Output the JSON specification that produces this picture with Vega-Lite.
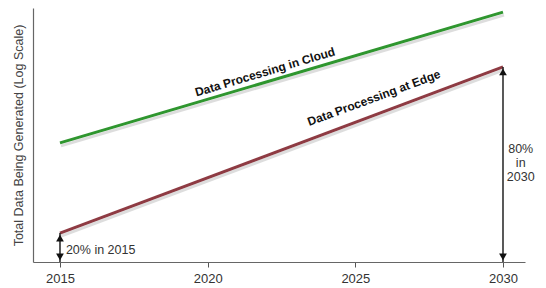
{
  "$schema": "https://vega.github.io/schema/vega-lite/v6.json",
  "width": 492,
  "height": 254,
  "autosize": "none",
  "padding": {"left": 33, "top": 8, "right": 21, "bottom": 26},
  "background": "white",
  "config": {
    "view": {"stroke": null},
    "font": "Liberation Sans"
  },
  "datasets": {
    "lines": [
      {"year": 2015, "value": 46.9, "series": "Cloud"},
      {"year": 2030, "value": 98.4, "series": "Cloud"},
      {"year": 2015, "value": 11.4, "series": "Edge"},
      {"year": 2030, "value": 76.8, "series": "Edge"}
    ],
    "labels": [
      {"year": 2021.94, "value": 74.8, "label": "Data Processing in Cloud", "angle": -16.6},
      {"year": 2025.63, "value": 64.6, "label": "Data Processing at Edge", "angle": -20.3}
    ],
    "arrows": [
      {"year": 2015, "low": 0, "high": 11.4},
      {"year": 2030, "low": 0, "high": 76.8}
    ],
    "heads": [
      {"year": 2015, "value": 9.4, "dir": "up"},
      {"year": 2015, "value": 2.0, "dir": "down"},
      {"year": 2030, "value": 74.8, "dir": "up"},
      {"year": 2030, "value": 2.0, "dir": "down"}
    ],
    "noteLeft": [
      {"year": 2015.2, "value": 4.7, "note": "20% in 2015"}
    ],
    "noteRight": [
      {"year": 2030.6, "value": 44.5, "note": "80%\nin\n2030"}
    ]
  },
  "encoding": {
    "x": {
      "field": "year",
      "type": "quantitative",
      "scale": {"domain": [2014.086, 2030.745], "nice": false, "zero": false},
      "axis": {
        "values": [2015, 2020, 2025, 2030],
        "format": "d",
        "title": null,
        "grid": false,
        "labelFlush": false,
        "labelFontSize": 13,
        "labelColor": "#333",
        "labelPadding": 5,
        "tickSize": 5,
        "tickColor": "#555",
        "domainColor": "#666",
        "domainWidth": 1.2
      }
    }
  },
  "layer": [
    {
      "data": {"name": "lines"},
      "mark": {"type": "line", "strokeWidth": 3, "color": "#bbbbbb", "opacity": 0.5, "yOffset": 3, "xOffset": 1},
      "encoding": {
        "y": {
          "field": "value",
          "type": "quantitative",
          "scale": {"domain": [0, 100], "nice": false},
          "axis": {
            "title": "Total Data Being Generated (Log Scale)",
            "titleFontSize": 12.5,
            "titleFontWeight": "normal",
            "titleColor": "#444",
            "titlePadding": 8,
            "labels": false,
            "ticks": false,
            "grid": false,
            "domainColor": "#666",
            "domainWidth": 1.2
          }
        },
        "detail": {"field": "series"}
      }
    },
    {
      "data": {"name": "lines"},
      "mark": {"type": "line", "strokeWidth": 3},
      "encoding": {
        "y": {"field": "value", "type": "quantitative"},
        "color": {
          "field": "series",
          "type": "nominal",
          "scale": {"domain": ["Cloud", "Edge"], "range": ["#2f962f", "#8e3b43"]},
          "legend": null
        }
      }
    },
    {
      "data": {"name": "labels"},
      "mark": {"type": "text", "fontWeight": "bold", "fontSize": 12, "color": "#111", "align": "center", "baseline": "middle"},
      "encoding": {
        "y": {"field": "value", "type": "quantitative"},
        "text": {"field": "label"},
        "angle": {"field": "angle", "type": "quantitative", "scale": null}
      }
    },
    {
      "data": {"name": "arrows"},
      "mark": {"type": "rule", "color": "#222", "strokeWidth": 1.5},
      "encoding": {
        "y": {"field": "low", "type": "quantitative"},
        "y2": {"field": "high"}
      }
    },
    {
      "data": {"name": "heads"},
      "mark": {"type": "point", "filled": true, "color": "#111", "size": 60, "opacity": 1},
      "encoding": {
        "y": {"field": "value", "type": "quantitative"},
        "shape": {
          "field": "dir",
          "type": "nominal",
          "scale": {"domain": ["up", "down"], "range": ["triangle-up", "triangle-down"]},
          "legend": null
        }
      }
    },
    {
      "data": {"name": "noteLeft"},
      "mark": {"type": "text", "fontSize": 12.5, "color": "#333", "align": "left", "baseline": "middle"},
      "encoding": {
        "y": {"field": "value", "type": "quantitative"},
        "text": {"field": "note"}
      }
    },
    {
      "data": {"name": "noteRight"},
      "mark": {"type": "text", "fontSize": 12.5, "color": "#333", "align": "center", "baseline": "middle", "lineBreak": "\n", "lineHeight": 14},
      "encoding": {
        "y": {"field": "value", "type": "quantitative"},
        "text": {"field": "note"}
      }
    }
  ]
}
